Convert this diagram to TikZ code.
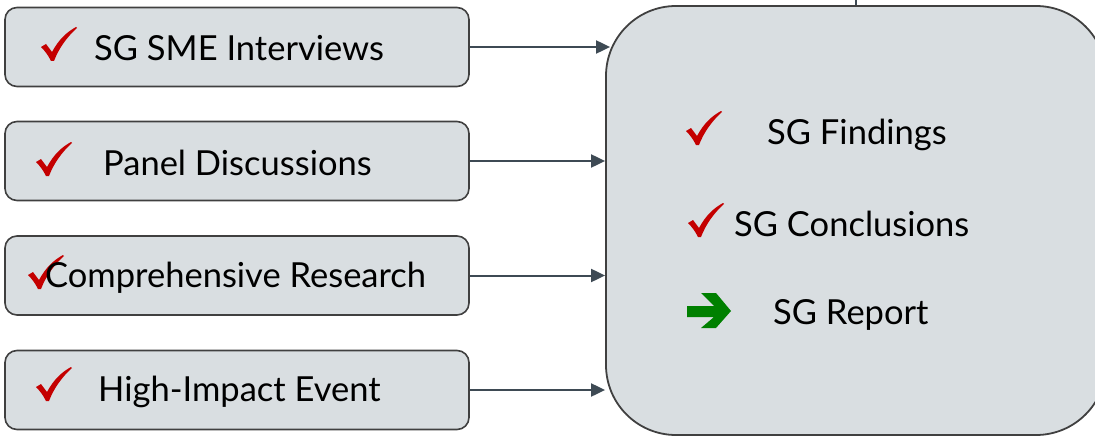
\documentclass[tikz,border=0pt]{standalone}
\usepackage{fontspec}
\setmainfont{Lato}
\usetikzlibrary{arrows.meta}
\definecolor{boxfill}{RGB}{217,222,225}
\definecolor{boxline}{RGB}{64,64,64}
\definecolor{arrline}{RGB}{62,74,84}
\definecolor{checkred}{RGB}{196,0,0}
\definecolor{arrgreen}{RGB}{0,128,0}
\begin{document}
\begin{tikzpicture}[x=1pt,y=-1pt,
  srcbox/.style={draw=boxline, fill=boxfill, line width=1.6pt, rounded corners=12pt, minimum width=464pt, minimum height=79pt, inner sep=0pt},
  bigbox/.style={draw=boxline, fill=boxfill, line width=1.8pt, rounded corners=70pt, minimum width=500pt, minimum height=429pt, inner sep=0pt},
  lbl/.style={font=\fontsize{34.5}{34.5}\selectfont, anchor=west, inner sep=0pt},
  conn/.style={draw=arrline, line width=2pt, -{Triangle[length=14pt,width=13pt]}},
  tick/.pic={\fill[checkred] (0,20) -- (5,17) -- (11,25) .. controls (18,12) and (26,5) .. (35,0) -- (36,1) .. controls (26,10) and (18,21) .. (13,34) -- (10,34) .. controls (7,28) and (4,24) .. (0,20) -- cycle;},
  goarrow/.pic={\fill[arrgreen] (0,13) -- (27,13) -- (14,0) -- (29,0) -- (44,18) -- (29,35) -- (14,35) -- (27,24) -- (0,24) -- cycle;}
]
\useasboundingbox (0,0) rectangle (1095,436);
\node[bigbox] (big) at (856,220.5) {};
\coordinate (topend) at (856,-2);
\draw[arrline, line width=1.6pt] (big.north) -- (topend);

\node[srcbox] (b1) at (237,47) {};
\node[srcbox] (b2) at (237,161) {};
\node[srcbox] (b3) at (237,275.5) {};
\node[srcbox] (b4) at (237,390) {};

\pic at (41,27) {tick};
\node[lbl] (t1) at (94,48.5) {SG SME Interviews};
\pic at (36,142) {tick};
\node[lbl] (t2) at (103,162.5) {Panel Discussions};
\pic at (28,255) {tick};
\node[lbl] (t3) at (45,277.5) {Comprehensive Research};
\pic at (36,367) {tick};
\node[lbl] (t4) at (98,391.5) {High-Impact Event};

\pic at (686,111) {tick};
\node[lbl] (t5) at (767,135) {SG Findings};
\pic at (688,203) {tick};
\node[lbl] (t6) at (734,224) {SG Conclusions};
\pic at (687,293) {goarrow};
\node[lbl] (t7) at (773,315) {SG Report};

\draw[conn, shorten >=-5pt] (b1.east) -- (big.west |- b1.east);
\draw[conn] (b2.east) -- (big.west |- b2.east);
\draw[conn] (b3.east) -- (big.west |- b3.east);
\draw[conn] (b4.east) -- (big.west |- b4.east);
\end{tikzpicture}
\end{document}
